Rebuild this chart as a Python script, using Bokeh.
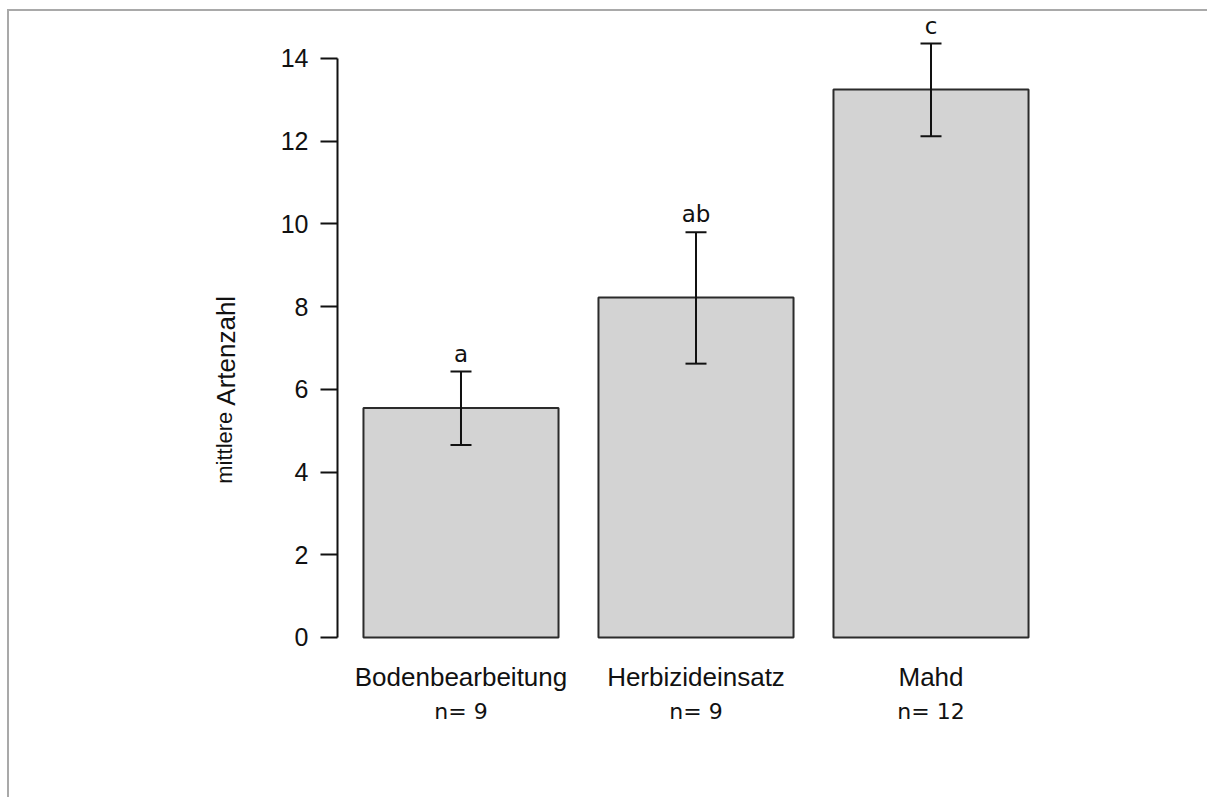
import math
from bokeh.plotting import figure
from bokeh.models import (ColumnDataSource, Whisker, TeeHead, LinearAxis,
                          FixedTicker, Range1d)
from bokeh.embed import file_html
from bokeh.resources import INLINE
from bokeh.core.properties import value

# ---- data ----
categories = ["Bodenbearbeitung", "Herbizideinsatz", "Mahd"]
means = [5.55, 8.22, 13.25]
upper = [6.43, 9.80, 14.36]
lower = [4.65, 6.62, 12.12]
letters = ["a", "ab", "c"]
n_labels = ["n= 9", "n= 9", "n= 12"]
y_ticks = [0, 2, 4, 6, 8, 10, 12, 14]
xpos = [1, 2, 3]
ylab_big = "Artenzahl"
ylab_small = "mittlere"

src = ColumnDataSource(dict(x=xpos, mean=means, upper=upper, lower=lower,
                            letter=letters, cat=categories, n=n_labels))

W, H = 1200, 788
x_start, x_end = 0.4745, 3.5255
y_start, y_end = -0.05, 15.135
NBSP = "\u00a0"

p = figure(width=W, height=H, output_backend="svg", toolbar_location=None,
           x_range=Range1d(x_start, x_end), y_range=Range1d(y_start, y_end),
           x_axis_location=None, y_axis_location=None,
           min_border_left=328, min_border_right=155,
           min_border_top=0, min_border_bottom=160)
p.margin = (9, 0, 0, 7)
p.outline_line_color = None
for g in p.grid:
    g.visible = False
p.background_fill_color = "white"
p.border_fill_color = "white"
p.styles = {"border-top": "2px solid #a9a9a9", "border-left": "2px solid #a9a9a9"}

# bars
p.vbar(x="x", top="mean", bottom=0, width=0.83, source=src,
       fill_color="#d3d3d3", line_color="#2b2b2b", line_width=2)

# error bars
p.add_layout(Whisker(base="x", upper="upper", lower="lower", source=src, level="overlay",
                     line_color="#111111", line_width=2,
                     upper_head=TeeHead(size=21, line_width=2, line_color="#111111"),
                     lower_head=TeeHead(size=21, line_width=2, line_color="#111111")))

# significance letters
p.text(x="x", y="upper", text="letter", source=src, text_align="center",
       text_baseline="alphabetic", y_offset=-18,
       text_font=value("DejaVu Sans"), text_font_size="23px", text_color="#111111")

# y axis with ticks and the larger word of the title
yax = LinearAxis(ticker=FixedTicker(ticks=y_ticks), bounds=(0, 14))
yax.axis_line_width = 2
yax.axis_line_color = "#111111"
yax.major_tick_line_width = 2
yax.major_tick_line_color = "#111111"
yax.major_tick_out = 17
yax.major_tick_in = 0
yax.minor_tick_line_color = None
yax.major_label_standoff = 12
yax.major_label_text_font = "Liberation Sans"
yax.major_label_text_font_size = "25px"
yax.major_label_text_color = "#111111"
yax.axis_label = ylab_big + NBSP * 7
yax.axis_label_standoff = 37
yax.axis_label_text_font = "Liberation Sans"
yax.axis_label_text_font_style = "normal"
yax.axis_label_text_font_size = "26px"
yax.axis_label_text_color = "#111111"
p.add_layout(yax, "left")

# second, line-less axis carrying the smaller word of the title
yax2 = LinearAxis(ticker=FixedTicker(ticks=[]))
yax2.axis_line_color = None
yax2.major_tick_line_color = None
yax2.minor_tick_line_color = None
yax2.major_tick_out = 0
yax2.major_tick_in = 0
yax2.major_label_standoff = 0
yax2.axis_label = ylab_small + NBSP * 40
yax2.axis_label_standoff = -29
yax2.axis_label_text_font = "Liberation Sans"
yax2.axis_label_text_font_style = "normal"
yax2.axis_label_text_font_size = "22px"
yax2.axis_label_text_color = "#111111"
p.add_layout(yax2, "left")

# category axis
cax = LinearAxis(ticker=FixedTicker(ticks=xpos),
                 major_label_overrides={x: c for x, c in zip(xpos, categories)})
cax.axis_line_color = None
cax.major_tick_line_color = None
cax.minor_tick_line_color = None
cax.major_tick_out = 0
cax.major_tick_in = 0
cax.major_label_standoff = 22
cax.major_label_text_font = "Liberation Sans"
cax.major_label_text_font_size = "26px"
cax.major_label_text_color = "#111111"
p.add_layout(cax, "below")

# n axis
nax = LinearAxis(ticker=FixedTicker(ticks=xpos),
                 major_label_overrides={x: n for x, n in zip(xpos, n_labels)})
nax.axis_line_color = None
nax.major_tick_line_color = None
nax.minor_tick_line_color = None
nax.major_tick_out = 0
nax.major_tick_in = 0
nax.major_label_standoff = 4
nax.major_label_text_font = "DejaVu Sans"
nax.major_label_text_font_size = "22px"
nax.major_label_text_color = "#111111"
p.add_layout(nax, "below")

open("out.html", "w").write(file_html(p, INLINE))
